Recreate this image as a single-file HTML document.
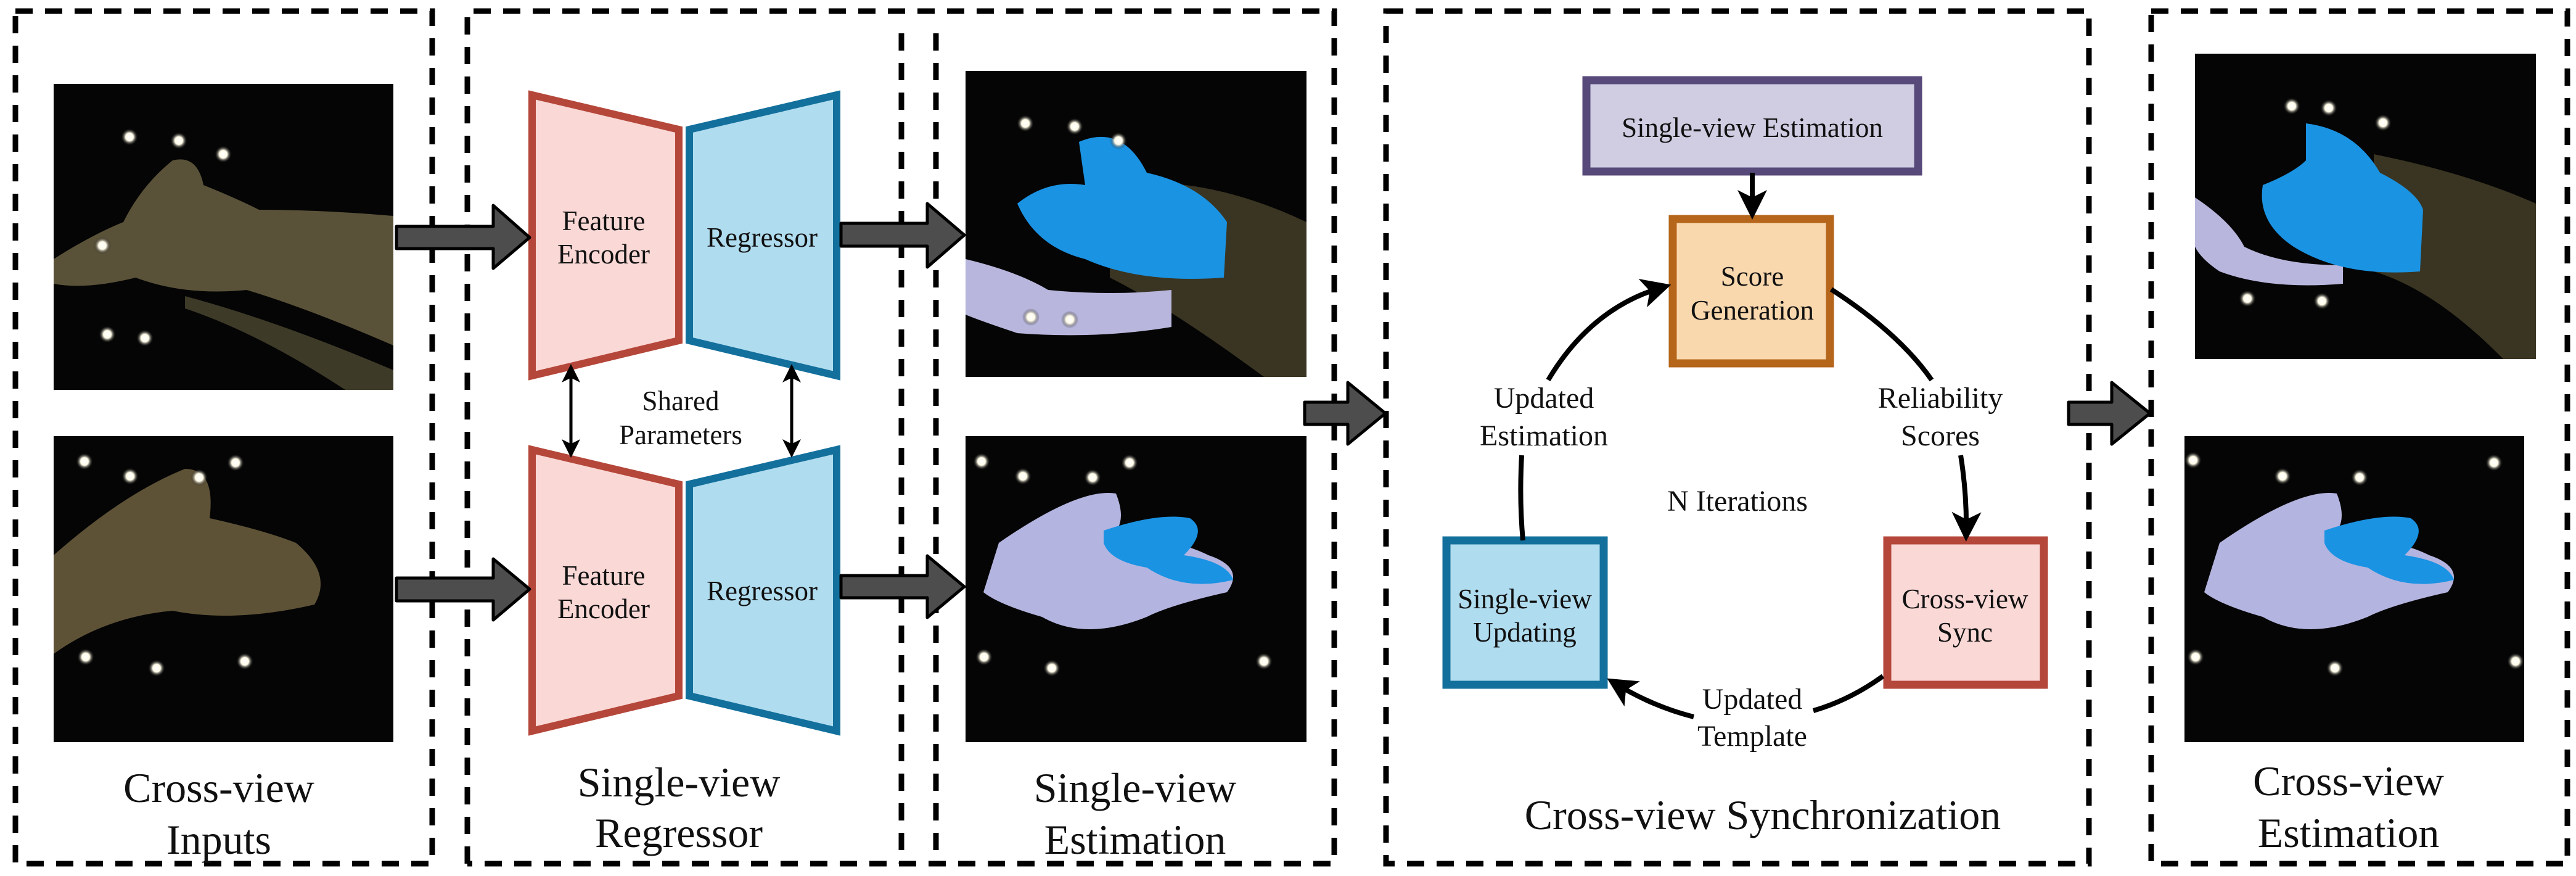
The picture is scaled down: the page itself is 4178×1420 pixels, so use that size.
<!DOCTYPE html>
<html><head><meta charset="utf-8"><style>
html,body{margin:0;padding:0;background:#fff;}
svg{display:block;}
svg text{font-family:"Liberation Serif","Times New Roman",Times,"DejaVu Serif",serif;fill:#111;text-anchor:middle;}
</style></head><body>
<svg width="4178" height="1420" viewBox="0 0 4178 1420" xmlns="http://www.w3.org/2000/svg">
<defs>
<marker id="ah" markerWidth="6" markerHeight="6" refX="4" refY="3" orient="auto" markerUnits="strokeWidth">
<path d="M0,0 L6,3 L0,6 L1.5,3 z" fill="#000"/></marker>
<marker id="ahs" markerWidth="6" markerHeight="6" refX="4" refY="3" orient="auto-start-reverse" markerUnits="strokeWidth">
<path d="M0,0 L6,3 L0,6 L1.5,3 z" fill="#000"/></marker>
<radialGradient id="dot"><stop offset="0" stop-color="#fff"/><stop offset="0.45" stop-color="#fffbe8"/><stop offset="1" stop-color="#050505" stop-opacity="0"/></radialGradient>
</defs>

<g fill="none" stroke="#000" stroke-width="9" stroke-dasharray="28 20">
<rect x="25" y="18" width="676" height="1382"/>
<path d="M758 1400 V18 H2164 V1400 H758"/>
<path d="M1462 54 V1400 M1518 54 V1400"/>
<rect x="2248" y="18" width="1140" height="1382"/>
<rect x="3489" y="18" width="675" height="1382"/>
</g>

<rect x="87" y="136" width="551" height="496" fill="#050505"/>
<rect x="87" y="707" width="551" height="496" fill="#050505"/>
<rect x="1566" y="115" width="553" height="496" fill="#050505"/>
<rect x="1566" y="707" width="553" height="496" fill="#050505"/>
<rect x="3560" y="87" width="553" height="495" fill="#050505"/>
<rect x="3543" y="707" width="551" height="496" fill="#050505"/>

<path d="M87 420 Q150 380 200 360 Q230 300 280 260 Q320 250 330 300 Q380 320 420 340 Q520 340 638 350 L638 560 Q500 500 400 470 Q300 480 220 450 Q140 470 87 460Z" fill="#5a5238"/>
<path d="M300 480 Q450 520 638 600 L638 632 L560 632 Q420 540 300 500Z" fill="#3d3a28"/>
<path d="M87 900 Q200 800 300 760 Q350 760 340 840 Q430 860 480 880 Q540 930 510 980 Q380 1010 280 990 Q170 1000 87 1060Z" fill="#5e5236"/>
<path d="M1800 300 Q1950 280 2119 360 L2119 611 L2050 611 Q1900 500 1800 450Z" fill="#3a3522"/>
<path d="M1566 420 Q1650 440 1700 470 Q1800 480 1900 470 L1900 530 Q1780 550 1650 540 Q1590 520 1566 510Z" fill="#b8b6dc"/>
<path d="M1750 230 Q1820 200 1860 280 Q1950 300 1990 360 L1985 450 Q1850 460 1760 420 Q1680 400 1650 330 Q1700 290 1760 300Z" fill="#1a93e3"/>
<path d="M1620 880 Q1750 790 1810 800 Q1830 850 1800 870 Q1900 870 1960 900 Q2020 920 1990 960 Q1900 980 1860 1000 Q1760 1040 1690 1000 Q1620 980 1595 960Z" fill="#b4b4e0"/>
<path d="M1790 860 Q1880 830 1930 840 Q1960 860 1920 900 Q1990 910 2000 940 Q1920 960 1860 920 Q1800 910 1790 880Z" fill="#1a93e3"/>
<path d="M3850 250 Q4000 280 4113 330 L4113 582 L4060 582 Q3950 470 3850 440Z" fill="#3a3522"/>
<path d="M3560 320 Q3620 360 3640 400 Q3700 430 3800 430 L3800 460 Q3680 470 3600 440 Q3570 420 3560 400Z" fill="#b8b6dc"/>
<path d="M3740 200 Q3820 210 3860 280 Q3920 310 3930 340 L3925 440 Q3800 450 3720 400 Q3660 360 3670 300 Q3720 280 3740 260Z" fill="#1a93e3"/>
<path d="M3600 880 Q3730 790 3790 800 Q3810 850 3780 870 Q3880 870 3940 900 Q4000 920 3970 960 Q3880 980 3840 1000 Q3740 1040 3670 1000 Q3600 980 3575 960Z" fill="#b4b4e0"/>
<path d="M3770 860 Q3860 830 3910 840 Q3940 860 3900 900 Q3970 910 3980 940 Q3900 960 3840 920 Q3780 910 3770 880Z" fill="#1a93e3"/>
<g fill="url(#dot)">
<circle cx="210" cy="222" r="14"/><circle cx="290" cy="228" r="14"/><circle cx="362" cy="250" r="14"/><circle cx="166" cy="398" r="14"/><circle cx="174" cy="542" r="14"/><circle cx="235" cy="548" r="14"/>
<circle cx="137" cy="748" r="14"/><circle cx="211" cy="772" r="14"/><circle cx="323" cy="774" r="14"/><circle cx="382" cy="750" r="14"/><circle cx="139" cy="1065" r="14"/><circle cx="254" cy="1083" r="14"/><circle cx="397" cy="1072" r="14"/>
<circle cx="1663" cy="200" r="14"/><circle cx="1743" cy="205" r="14"/><circle cx="1814" cy="228" r="14"/><circle cx="1672" cy="514" r="14"/><circle cx="1735" cy="518" r="14"/>
<circle cx="1592" cy="748" r="14"/><circle cx="1659" cy="772" r="14"/><circle cx="1772" cy="774" r="14"/><circle cx="1832" cy="750" r="14"/><circle cx="1596" cy="1065" r="14"/><circle cx="1706" cy="1083" r="14"/><circle cx="2050" cy="1072" r="14"/>
<circle cx="3717" cy="172" r="14"/><circle cx="3777" cy="175" r="14"/><circle cx="3865" cy="199" r="14"/><circle cx="3645" cy="484" r="14"/><circle cx="3766" cy="488" r="14"/>
<circle cx="3557" cy="746" r="14"/><circle cx="3702" cy="772" r="14"/><circle cx="3827" cy="774" r="14"/><circle cx="4045" cy="750" r="14"/><circle cx="3561" cy="1065" r="14"/><circle cx="3787" cy="1083" r="14"/><circle cx="4080" cy="1072" r="14"/>
</g>

<g stroke-width="12" stroke-linejoin="miter">
<polygon points="863,154 1101,210 1101,552 863,609" fill="#f9d8d6" stroke="#b5473a"/>
<polygon points="1118,210 1357,154 1357,609 1118,552" fill="#b0dcef" stroke="#13709c"/>
<polygon points="863,729 1101,785 1101,1128 863,1185" fill="#f9d8d6" stroke="#b5473a"/>
<polygon points="1118,785 1357,729 1357,1185 1118,1128" fill="#b0dcef" stroke="#13709c"/>
</g>
<g font-size="45">
<text x="979" y="373">Feature</text><text x="979" y="427">Encoder</text>
<text x="1236" y="400">Regressor</text>
<text x="979" y="948">Feature</text><text x="979" y="1002">Encoder</text>
<text x="1236" y="973">Regressor</text>
<text x="1104" y="665">Shared</text><text x="1104" y="720">Parameters</text>
</g>
<g stroke="#000" stroke-width="5" fill="none">
<line x1="926" y1="600" x2="926" y2="732" marker-start="url(#ahs)" marker-end="url(#ah)"/>
<line x1="1284" y1="600" x2="1284" y2="732" marker-start="url(#ahs)" marker-end="url(#ah)"/>
</g>

<g fill="#4d4d4d" stroke="#000" stroke-width="5" stroke-linejoin="round">
<polygon points="643,367 800,367 800,333 859,385 800,435 800,403 643,403"/>
<polygon points="643,937 800,937 800,906 859,955 800,1005 800,974 643,974"/>
<polygon points="1364,362 1504,362 1504,330 1564,381 1504,433 1504,399 1364,399"/>
<polygon points="1364,933 1504,933 1504,901 1564,951 1504,1001 1504,969 1364,969"/>
<polygon points="2116,652 2186,652 2186,620 2247,670 2186,720 2186,688 2116,688"/>
<polygon points="3355,652 3425,652 3425,620 3487,670 3425,720 3425,688 3355,688"/>
</g>

<g stroke-width="13">
<rect x="2573" y="130" width="538" height="148" fill="#d0cde3" stroke="#574a7a"/>
<rect x="2713" y="355" width="255" height="234" fill="#fad8ae" stroke="#b5661b"/>
<rect x="3061" y="876" width="254" height="234" fill="#f9d8d6" stroke="#b5473a"/>
<rect x="2346" y="876" width="255" height="234" fill="#b0dcef" stroke="#13709c"/>
</g>
<g font-size="45">
<text x="2842" y="222">Single-view Estimation</text>
<text x="2842" y="463">Score</text><text x="2842" y="518">Generation</text>
<text x="3187" y="986">Cross-view</text><text x="3187" y="1040">Sync</text>
<text x="2473" y="986">Single-view</text><text x="2473" y="1040">Updating</text>
</g>
<g font-size="48">
<text x="2818" y="828">N Iterations</text>
<text x="2504" y="661">Updated</text><text x="2504" y="722">Estimation</text>
<text x="3147" y="661">Reliability</text><text x="3147" y="722">Scores</text>
<text x="2842" y="1149">Updated</text><text x="2842" y="1209">Template</text>
</g>
<g stroke="#000" stroke-width="8" fill="none">
<line x1="2842" y1="280" x2="2842" y2="340" marker-end="url(#ah)"/>
<path d="M2470 876 Q2464 810 2468 738"/>
<path d="M2511 616 Q2580 500 2695 466" marker-end="url(#ah)"/>
<path d="M2970 469 Q3080 540 3133 616"/>
<path d="M3180 738 Q3190 800 3189 862" marker-end="url(#ah)"/>
<path d="M3054 1096 Q3000 1135 2941 1152"/>
<path d="M2747 1162 Q2680 1145 2620 1108" marker-end="url(#ah)"/>
</g>

<g font-size="68">
<text x="355" y="1300">Cross-view</text><text x="355" y="1384">Inputs</text>
<text x="1101" y="1291">Single-view</text><text x="1101" y="1373">Regressor</text>
<text x="1841" y="1300">Single-view</text><text x="1841" y="1384">Estimation</text>
<text x="2859" y="1344">Cross-view Synchronization</text>
<text x="3809" y="1289">Cross-view</text><text x="3809" y="1373">Estimation</text>
</g>
</svg>
</body></html>
